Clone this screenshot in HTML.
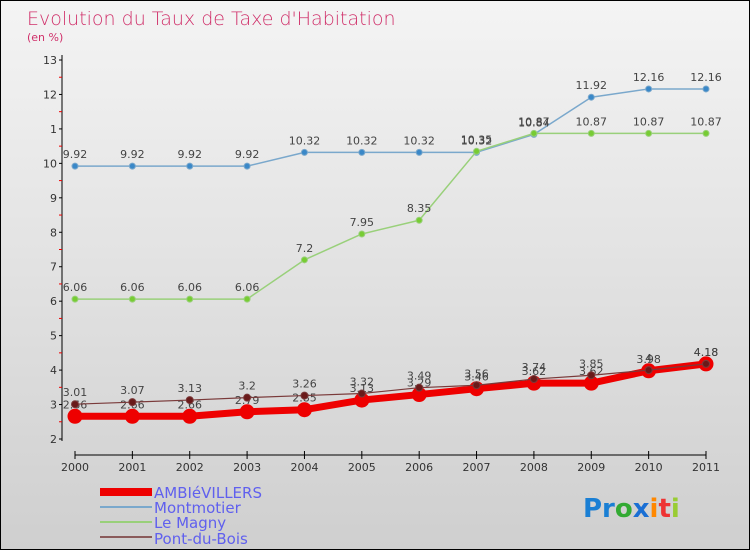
<!DOCTYPE html>
<html><head><meta charset="utf-8"><style>
body{margin:0}
#c{width:750px;height:550px;position:relative;background:linear-gradient(#f4f4f4,#cfcfcf);box-sizing:border-box;border:1px solid #000;font-family:"DejaVu Sans","Liberation Sans",sans-serif}
</style></head><body>
<div id="c">
<svg id="s" width="750" height="550" style="position:absolute;left:-1px;top:-1px">
<text x="27" y="25" font-size="19" fill="#d0306a" font-family="DejaVu Sans,sans-serif" style="font-weight:200">Evolution du Taux de Taxe d'Habitation</text>
<text x="27" y="41" font-size="11" fill="#d0306a">(en %)</text>
<g id="axes"></g><g id="series"></g>
<g font-size="15" fill="#6060ee">
<rect x="100" y="488" width="52" height="8" fill="#e00"/>
<text x="154" y="498">AMBIéVILLERS</text>
<rect x="100" y="506" width="52" height="2" fill="#7aa8cc"/>
<text x="154" y="513">Montmotier</text>
<rect x="100" y="521" width="52" height="2" fill="#99d07a"/>
<text x="154" y="528">Le Magny</text>
<rect x="100" y="536" width="52" height="2" fill="#8a5a5a"/>
<text x="154" y="544">Pont-du-Bois</text>
</g>
<text x="583" y="517" font-size="26" font-weight="bold"><tspan fill="#1a7fd4">Pr</tspan><tspan fill="#3a3">o</tspan><tspan fill="#1a6fd4">x</tspan><tspan fill="#f80">i</tspan><tspan fill="#e33">t</tspan><tspan fill="#9c3">i</tspan></text>
</svg>
</div>
<script>
const years=["2000","2001","2002","2003","2004","2005","2006","2007","2008","2009","2010","2011"];
const yTicks=[2,3,4,5,6,7,8,9,10,11,12,13];
const yTickLabels=["2","3","4","5","6","7","8","9","10","1","12","13"];
const ambievillers=[2.66,2.66,2.66,2.79,2.85,3.13,3.29,3.46,3.62,3.62,3.98,4.18];
const montmotier=[9.92,9.92,9.92,9.92,10.32,10.32,10.32,10.32,10.84,11.92,12.16,12.16];
const leMagny=[6.06,6.06,6.06,6.06,7.2,7.95,8.35,10.35,10.87,10.87,10.87,10.87];
const pontDuBois=[3.01,3.07,3.13,3.2,3.26,3.32,3.49,3.56,3.74,3.85,4,4.18];
const NS="http://www.w3.org/2000/svg";
const X=i=>75+i*(631/11), Y=v=>439-(v-2)*(379/11);
function mk(t,a,p){const e=document.createElementNS(NS,t);for(const k in a)e.setAttribute(k,a[k]);p.appendChild(e);return e;}
const ax=document.getElementById('axes');
let l=mk('line',{x1:62,y1:55,x2:62,y2:441,stroke:'#000'},ax);


l=mk('line',{x1:75,y1:455,x2:706,y2:455,stroke:'#000'},ax);


yTicks.forEach((v,i)=>{
 mk('line',{x1:59,y1:Y(v),x2:62,y2:Y(v),stroke:'#000'},ax);
 if(i<yTicks.length-1)mk('line',{x1:59,y1:Y(v+0.5),x2:62,y2:Y(v+0.5),stroke:'#e00'},ax);
 const t=mk('text',{x:57,y:Y(v)+4,'font-size':11,'text-anchor':'end',fill:'#333'},ax);t.textContent=yTickLabels[i];
 
 
});
years.forEach((y,i)=>{
 mk('line',{x1:X(i),y1:451,x2:X(i),y2:459,stroke:'#000'},ax);
 const t=mk('text',{x:X(i),y:471,'font-size':11,'text-anchor':'middle',fill:'#333'},ax);t.textContent=y;
 
 
});
const sg=document.getElementById('series');
function draw(d,name,col,w,r,dot,lab){
 const g=mk('g',{},sg);
 
 
 const p=mk('polyline',{points:d.map((v,i)=>X(i)+','+Y(v)).join(' '),fill:'none',stroke:col,'stroke-width':w,'stroke-linejoin':'round'},g);
 
 
 d.forEach((v,i)=>{
  const c=mk('circle',{cx:X(i),cy:Y(v),r:r,fill:dot,stroke:col},g);
  
  
  if(lab){const t=mk('text',{x:X(i),y:Y(v)-8,'font-size':11,'text-anchor':'middle',fill:'#444'},g);t.textContent=String(v);
  
  }
 });
}
draw(montmotier,'montmotier','#7aa8cc',1.5,3,'#3a88c8',true);
draw(leMagny,'le-magny','#99d07a',1.5,3,'#77cc33',true);
draw(ambievillers,'ambievillers','#ee0000',7,7,'#ee0000',true);
draw(pontDuBois,'pont-du-bois','#7a3a3a',1.2,3.5,'#6a1a1a',true);
</script>
</body></html>
